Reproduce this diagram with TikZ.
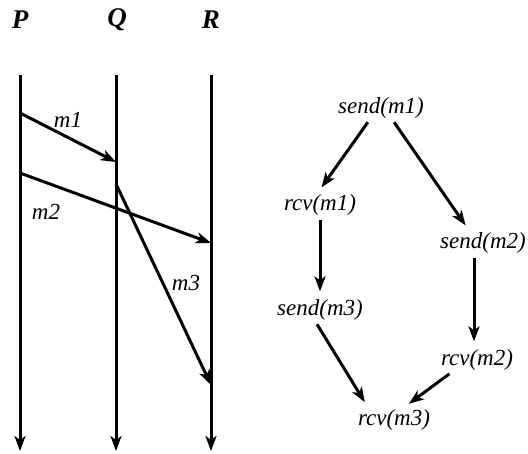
\documentclass[tikz,border=0pt]{standalone}
\usepackage{fontspec}
\setmainfont{Liberation Serif}
\usetikzlibrary{arrows.meta}
\begin{document}
\begin{tikzpicture}[x=1pt,y=-1pt,
  arr/.style={line width=3pt,-{Stealth[length=15pt,width=11pt,inset=4pt]}},
  garr/.style={arr,shorten >=6pt,shorten <=2pt},
  proc/.style={font=\fontsize{27}{30}\selectfont\bfseries\itshape,inner sep=0pt},
  lab/.style={font=\fontsize{23}{26}\selectfont\itshape,inner sep=0pt},
  ev/.style={font=\fontsize{23}{26}\selectfont\itshape,inner sep=2pt}]
\useasboundingbox (0,0) rectangle (528,454);
% process names
\node[proc] (P) at (20,20) {P};
\node[proc] (Q) at (117,20) {Q};
\node[proc] (R) at (211,20) {R};
% lifelines
\coordinate (Pt) at (20,75); \coordinate (Pb) at (20,451);
\coordinate (Qt) at (116,75); \coordinate (Qb) at (116,451);
\coordinate (Rt) at (211,75); \coordinate (Rb) at (211,451);
\draw[arr] (Pt) -- (Pb);
\draw[arr] (Qt) -- (Qb);
\draw[arr] (Rt) -- (Rb);
% events
\coordinate (s1) at (20,113);
\coordinate (r1) at (116,162);
\coordinate (s2) at (20,173);
\coordinate (r2) at (211,243);
\coordinate (s3) at (116,184);
\coordinate (r3) at (211,385);
\draw[arr] (s1) -- (r1);
\draw[arr] (s2) -- (r2);
\draw[arr] (s3) -- (r3);
\node[lab] (lm1) at (68,120) {m1};
\node[lab] (lm2) at (46,212) {m2};
\node[lab] (lm3) at (186,283) {m3};
% happened-before graph
\node[ev] (sm1) at (381,108) {send(m1)};
\node[ev] (rm1) at (320,205) {rcv(m1)};
\node[ev] (sm2) at (483,243) {send(m2)};
\node[ev] (sm3) at (320,310) {send(m3)};
\node[ev] (rm2) at (477,360) {rcv(m2)};
\node[ev] (rm3) at (394,420) {rcv(m3)};
\draw[garr] ([xshift=-12pt]sm1.south) -- ([xshift=-2pt]rm1.north);
\draw[garr] ([xshift=12pt]sm1.south) -- ([xshift=-14pt]sm2.north);
\draw[garr] (rm1.south) -- (sm3.north);
\draw[garr] ([xshift=-9pt]sm2.south) -- ([xshift=-3pt]rm2.north);
\draw[garr] ([xshift=-4pt]sm3.south) -- ([xshift=-26pt]rm3.north);
\draw[garr] ([xshift=-26pt]rm2.south) -- ([xshift=10pt]rm3.north);
\end{tikzpicture}
\end{document}
